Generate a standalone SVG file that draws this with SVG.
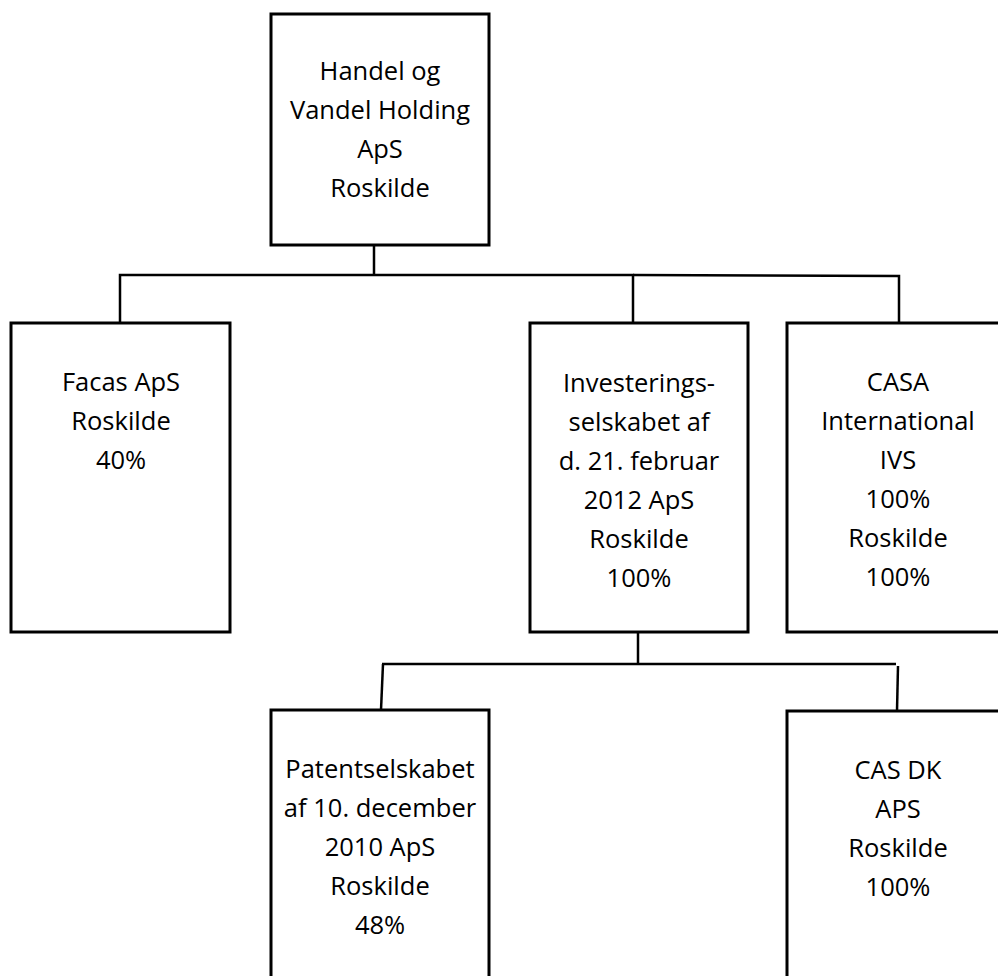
<svg xmlns="http://www.w3.org/2000/svg" width="998" height="976" viewBox="0 0 998 976">
<style>
.box{fill:#fff;stroke:#000;stroke-width:3}
.t{font-family:"Open Sans","Liberation Sans",sans-serif;font-size:25.5px;fill:#000;text-anchor:middle}
.c{fill:none;stroke:#000;stroke-width:2.5}
</style>
<rect width="998" height="976" fill="#fff"/>
<g id="connectors">
<line class="c" x1="374" y1="245" x2="374" y2="275"/>
<polyline class="c" points="120,323 120,275 633,275 633,323"/>
<polyline class="c" points="633,275 899,276 899,323"/>
<line class="c" x1="638" y1="632" x2="638" y2="664"/>
<line class="c" x1="382" y1="664" x2="896" y2="664"/>
<line class="c" x1="383" y1="664" x2="381" y2="710"/>
<line class="c" x1="898" y1="666" x2="897" y2="711"/>
</g>
<g id="holding">
<rect class="box" x="271" y="14" width="218" height="231"/>
<text class="t" x="380" y="80">Handel og</text>
<text class="t" x="380" y="119">Vandel Holding</text>
<text class="t" x="380" y="158">ApS</text>
<text class="t" x="380" y="197">Roskilde</text>
</g>
<g id="facas">
<rect class="box" x="11" y="323" width="219" height="309"/>
<text class="t" x="121" y="391">Facas ApS</text>
<text class="t" x="121" y="430">Roskilde</text>
<text class="t" x="121" y="469">40%</text>
</g>
<g id="invest">
<rect class="box" x="530" y="323" width="218" height="309"/>
<text class="t" x="639" y="392">Investerings-</text>
<text class="t" x="639" y="431">selskabet af</text>
<text class="t" x="639" y="470">d. 21. februar</text>
<text class="t" x="639" y="509">2012 ApS</text>
<text class="t" x="639" y="548">Roskilde</text>
<text class="t" x="639" y="587">100%</text>
</g>
<g id="casa">
<rect class="box" x="787" y="323" width="230" height="309"/>
<text class="t" x="898" y="391">CASA</text>
<text class="t" x="898" y="430">International</text>
<text class="t" x="898" y="469">IVS</text>
<text class="t" x="898" y="508">100%</text>
<text class="t" x="898" y="547">Roskilde</text>
<text class="t" x="898" y="586">100%</text>
</g>
<g id="patent">
<rect class="box" x="271" y="710" width="218" height="290"/>
<text class="t" x="380" y="778">Patentselskabet</text>
<text class="t" x="380" y="817">af 10. december</text>
<text class="t" x="380" y="856">2010 ApS</text>
<text class="t" x="380" y="895">Roskilde</text>
<text class="t" x="380" y="934">48%</text>
</g>
<g id="casdk">
<rect class="box" x="787" y="711" width="230" height="290"/>
<text class="t" x="898" y="779">CAS DK</text>
<text class="t" x="898" y="818">APS</text>
<text class="t" x="898" y="857">Roskilde</text>
<text class="t" x="898" y="896">100%</text>
</g>
</svg>
